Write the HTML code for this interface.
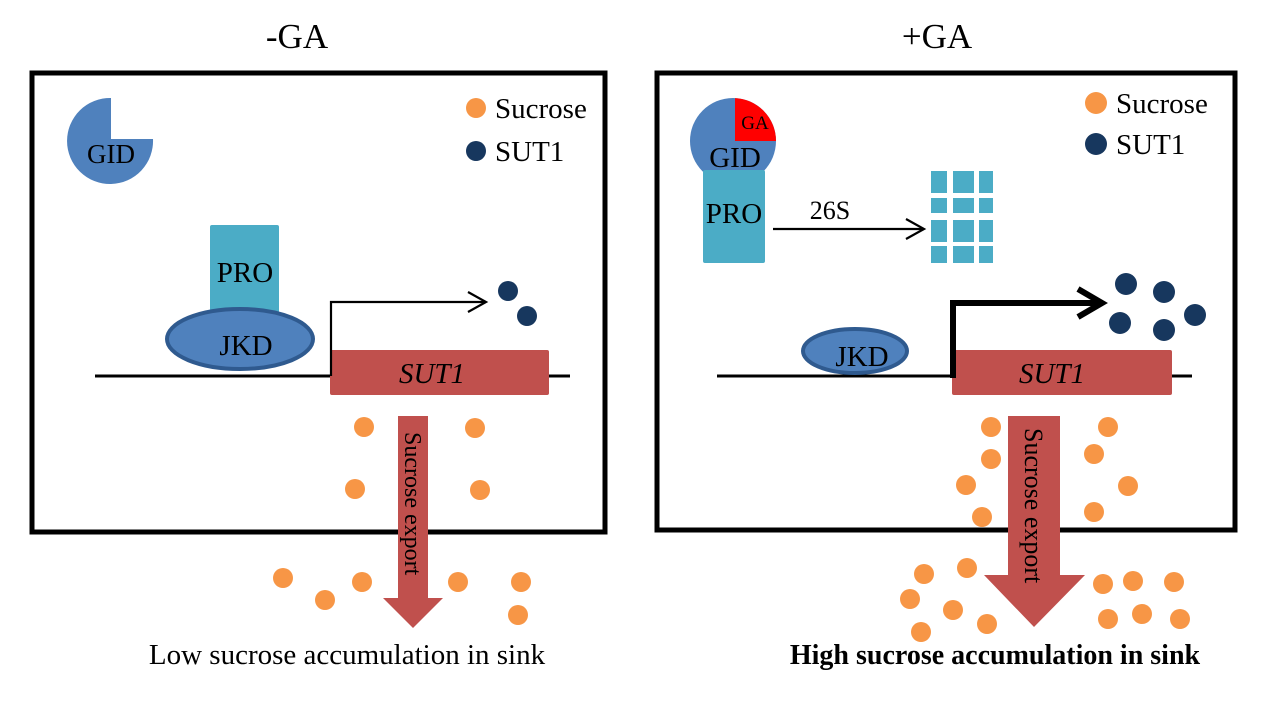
<!DOCTYPE html>
<html><head><meta charset="utf-8"><style>
html,body{margin:0;padding:0;background:#fff;}
svg{display:block;}
text{font-family:"Liberation Serif",serif;fill:#000;}
</style></head><body>
<svg width="1268" height="702" viewBox="0 0 1268 702" xmlns="http://www.w3.org/2000/svg">
<defs>
<marker id="ah" markerWidth="24" markerHeight="24" refX="20" refY="11" orient="auto" markerUnits="userSpaceOnUse">
<path d="M2,1 L20,11 L2,21" fill="none" stroke="#000" stroke-width="2.2"/></marker>
</defs>
<text x="297" y="48" font-size="35" text-anchor="middle">-GA</text>
<text x="937" y="48" font-size="35" text-anchor="middle">+GA</text>

<!-- LEFT -->
<rect x="32" y="73" width="573" height="459" fill="none" stroke="#000" stroke-width="5"/>
<path d="M111,139 L153,139 A43,43 0 1 1 111,98 Z" fill="#4f81bd"/>
<text x="111" y="163" font-size="27" text-anchor="middle">GID</text>
<circle cx="476" cy="108" r="10" fill="#f79646"/>
<text x="495" y="118" font-size="29">Sucrose</text>
<circle cx="476" cy="151" r="10" fill="#17375e"/>
<text x="495" y="161" font-size="29">SUT1</text>
<rect x="210" y="225" width="69" height="100" rx="2" fill="#4bacc6"/>
<text x="245" y="282" font-size="29" text-anchor="middle">PRO</text>
<line x1="95" y1="376" x2="570" y2="376" stroke="#000" stroke-width="3"/>
<ellipse cx="240" cy="339" rx="73" ry="30" fill="#4f81bd" stroke="#2f5a8f" stroke-width="4"/>
<text x="246" y="355" font-size="29" text-anchor="middle">JKD</text>
<rect x="330" y="350" width="219" height="45" rx="2" fill="#c0504d"/>
<text x="432" y="383" font-size="29" font-style="italic" text-anchor="middle">SUT1</text>
<polyline points="331,376 331,302 486,302" fill="none" stroke="#000" stroke-width="2.2" marker-end="url(#ah)"/>
<circle cx="508" cy="291" r="10" fill="#17375e"/>
<circle cx="527" cy="316" r="10" fill="#17375e"/>
<g fill="#f79646">
<circle cx="364" cy="427" r="10"/><circle cx="475" cy="428" r="10"/>
<circle cx="355" cy="489" r="10"/><circle cx="480" cy="490" r="10"/>
<circle cx="283" cy="578" r="10"/><circle cx="325" cy="600" r="10"/>
<circle cx="362" cy="582" r="10"/><circle cx="458" cy="582" r="10"/>
<circle cx="521" cy="582" r="10"/><circle cx="518" cy="615" r="10"/>
</g>
<path d="M398,416 L428,416 L428,598 L443,598 L413,628 L383,598 L398,598 Z" fill="#c0504d"/>
<text transform="translate(405,432) rotate(90)" font-size="24">Sucrose export</text>
<text x="347" y="664" font-size="29" text-anchor="middle">Low sucrose accumulation in sink</text>

<!-- RIGHT -->
<rect x="657" y="73" width="578" height="457" fill="none" stroke="#000" stroke-width="5"/>
<circle cx="733" cy="141" r="43" fill="#4f81bd"/>
<path d="M735,141 L735,98.1 A43,43 0 0 1 776,141 Z" fill="#ff0000"/>
<text x="755" y="129" font-size="19" text-anchor="middle">GA</text>
<rect x="703" y="170" width="62" height="93" rx="2" fill="#4bacc6"/>
<text x="735" y="167" font-size="29" text-anchor="middle">GID</text>
<text x="734" y="223" font-size="29" text-anchor="middle">PRO</text>
<line x1="773" y1="229" x2="924" y2="229" stroke="#000" stroke-width="2.2" marker-end="url(#ah)"/>
<text x="830" y="219" font-size="26" text-anchor="middle">26S</text>
<g fill="#4bacc6">
<rect x="931" y="171" width="16" height="22"/><rect x="953" y="171" width="21" height="22"/><rect x="979" y="171" width="14" height="22"/>
<rect x="931" y="198" width="16" height="15"/><rect x="953" y="198" width="21" height="15"/><rect x="979" y="198" width="14" height="15"/>
<rect x="931" y="220" width="16" height="22"/><rect x="953" y="220" width="21" height="22"/><rect x="979" y="220" width="14" height="22"/>
<rect x="931" y="246" width="16" height="17"/><rect x="953" y="246" width="21" height="17"/><rect x="979" y="246" width="14" height="17"/>
</g>
<circle cx="1096" cy="103" r="11" fill="#f79646"/>
<text x="1116" y="113" font-size="29">Sucrose</text>
<circle cx="1096" cy="144" r="11" fill="#17375e"/>
<text x="1116" y="154" font-size="29">SUT1</text>
<line x1="717" y1="376" x2="1192" y2="376" stroke="#000" stroke-width="3"/>
<ellipse cx="855" cy="351" rx="52" ry="22" fill="#4f81bd" stroke="#2f5a8f" stroke-width="4"/>
<text x="862" y="366" font-size="29" text-anchor="middle">JKD</text>
<rect x="952" y="350" width="220" height="45" rx="2" fill="#c0504d"/>
<text x="1052" y="383" font-size="29" font-style="italic" text-anchor="middle">SUT1</text>
<polyline points="953,378 953,303 1102,303" fill="none" stroke="#000" stroke-width="6"/>
<polyline points="1078,289 1102,303 1078,317" fill="none" stroke="#000" stroke-width="6"/>
<g fill="#17375e">
<circle cx="1126" cy="284" r="11"/><circle cx="1164" cy="292" r="11"/>
<circle cx="1120" cy="323" r="11"/><circle cx="1164" cy="330" r="11"/>
<circle cx="1195" cy="315" r="11"/>
</g>
<g fill="#f79646">
<circle cx="991" cy="427" r="10"/><circle cx="1108" cy="427" r="10"/>
<circle cx="991" cy="459" r="10"/><circle cx="1094" cy="454" r="10"/>
<circle cx="966" cy="485" r="10"/><circle cx="1128" cy="486" r="10"/>
<circle cx="982" cy="517" r="10"/><circle cx="1094" cy="512" r="10"/>
<circle cx="924" cy="574" r="10"/><circle cx="967" cy="568" r="10"/>
<circle cx="910" cy="599" r="10"/><circle cx="953" cy="610" r="10"/>
<circle cx="921" cy="632" r="10"/><circle cx="987" cy="624" r="10"/>
<circle cx="1103" cy="584" r="10"/><circle cx="1133" cy="581" r="10"/>
<circle cx="1174" cy="582" r="10"/><circle cx="1108" cy="619" r="10"/>
<circle cx="1142" cy="614" r="10"/><circle cx="1180" cy="619" r="10"/>
</g>
<path d="M1008,416 L1060,416 L1060,575 L1085,575 L1034,627 L984,575 L1008,575 Z" fill="#c0504d"/>
<text transform="translate(1025,428) rotate(90)" font-size="26">Sucrose export</text>
<text x="995" y="664" font-size="28" font-weight="bold" text-anchor="middle">High sucrose accumulation in sink</text>
</svg>
</body></html>
